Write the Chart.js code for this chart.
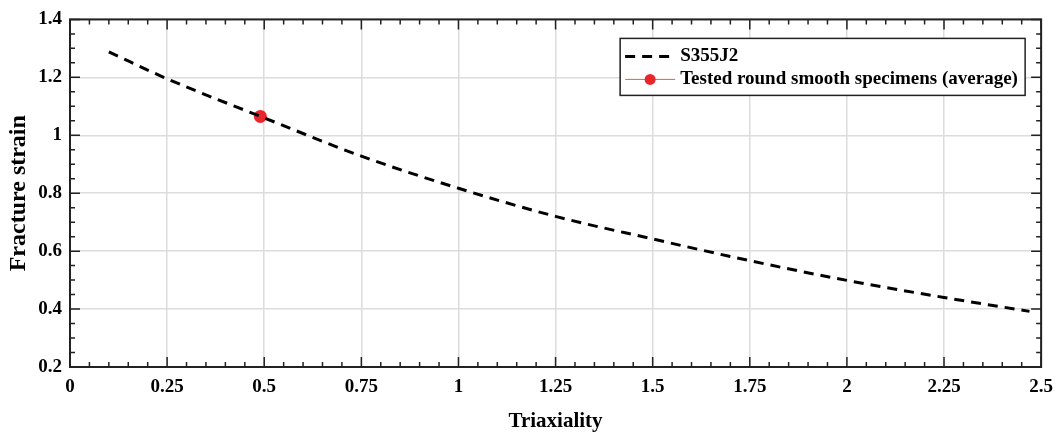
<!DOCTYPE html>
<html lang="en">
<head>
  <meta charset="UTF-8" />
  <title>Fracture strain vs triaxiality</title>
  <script src="https://cdn.jsdelivr.net/npm/chart.js"></script>
  <style>
    body { margin: 0; background: #fff; }
    #wrap { width: 1062px; height: 436px; }
  </style>
</head>
<body>
  <div id="wrap"><canvas id="chart" width="1062" height="436"></canvas></div>

  <script>
    // curve S355J2
    const curveX = [0.1, 0.25, 0.5, 0.75, 1.0, 1.25, 1.5, 1.75, 2.0, 2.25, 2.47];
    const curveY = [1.288, 1.195, 1.06, 0.928, 0.817, 0.72, 0.642, 0.567, 0.499, 0.44, 0.392];
    // tested specimens average
    const testX = [0.49];
    const testY = [1.065];
    const seriesNames = ['S355J2', 'Tested round smooth specimens (average)'];
    const xTicks = [0, 0.25, 0.5, 0.75, 1, 1.25, 1.5, 1.75, 2, 2.25, 2.5];
    const yTicks = [0.2, 0.4, 0.6, 0.8, 1, 1.2, 1.4];

    const FONT = '"Liberation Serif", "Times New Roman", serif';
    const RED = '#e8262b';

    // box, inward ticks on all sides, legend in the top right corner
    const frame = {
      id: 'frame',
      afterDatasetsDraw(chart) {
        const { ctx, chartArea: a, scales: { x, y } } = chart;
        ctx.save();
        ctx.strokeStyle = '#222';
        ctx.lineWidth = 1.5;
        for (let i = 0; i <= 50; i++) {
          const v = i * 0.05;
          const px = x.getPixelForValue(v);
          const len = i % 5 === 0 ? 10 : 5;
          ctx.beginPath();
          ctx.moveTo(px, a.bottom); ctx.lineTo(px, a.bottom - len);
          ctx.moveTo(px, a.top); ctx.lineTo(px, a.top + len);
          ctx.stroke();
        }
        for (let i = 0; i <= 24; i++) {
          const v = 0.2 + i * 0.05;
          const py = y.getPixelForValue(v);
          const len = i % 4 === 0 ? 10 : 5;
          ctx.beginPath();
          ctx.moveTo(a.left, py); ctx.lineTo(a.left + len, py);
          ctx.moveTo(a.right, py); ctx.lineTo(a.right - len, py);
          ctx.stroke();
        }
        ctx.lineWidth = 2;
        ctx.strokeRect(a.left, a.top, a.right - a.left, a.bottom - a.top);

        // legend
        const bx = a.right - 421, by = a.top + 19, bw = 405, bh = 57;
        ctx.fillStyle = '#fff';
        ctx.fillRect(bx, by, bw, bh);
        ctx.lineWidth = 1.5;
        ctx.strokeStyle = '#222';
        ctx.strokeRect(bx, by, bw, bh);
        const r1 = by + 18, r2 = by + 41;
        ctx.strokeStyle = '#000';
        ctx.lineWidth = 3;
        ctx.setLineDash([10, 7]);
        ctx.beginPath(); ctx.moveTo(bx + 5, r1); ctx.lineTo(bx + 55, r1); ctx.stroke();
        ctx.setLineDash([]);
        ctx.strokeStyle = '#f0602a';
        ctx.lineWidth = 1;
        ctx.beginPath(); ctx.moveTo(bx + 5, r2); ctx.lineTo(bx + 55, r2); ctx.stroke();
        ctx.fillStyle = RED;
        ctx.beginPath(); ctx.arc(bx + 30, r2, 5.5, 0, Math.PI * 2); ctx.fill();
        ctx.fillStyle = '#000';
        ctx.font = 'bold 19px ' + FONT;
        ctx.textBaseline = 'middle';
        ctx.fillText(seriesNames[0], bx + 60, r1);
        ctx.fillText(seriesNames[1], bx + 60, r2);
        ctx.restore();
      }
    };

    const ctx = document.getElementById('chart').getContext('2d');
    new Chart(ctx, {
      type: 'scatter',
      data: {
        datasets: [{
          label: seriesNames[0],
          data: curveX.map((v, i) => ({ x: v, y: curveY[i] })),
          showLine: true,
          borderColor: '#000',
          borderWidth: 3,
          borderDash: [10, 7],
          pointRadius: 0,
          tension: 0.4,
          cubicInterpolationMode: 'monotone'
        }, {
          label: seriesNames[1],
          data: testX.map((v, i) => ({ x: v, y: testY[i] })),
          backgroundColor: RED,
          borderColor: RED,
          pointRadius: 6.5,
          pointBorderWidth: 0
        }]
      },
      options: {
        responsive: false,
        animation: false,
        layout: { padding: { top: 15, right: 18, left: 0, bottom: 0 } },
        plugins: { legend: { display: false }, tooltip: { enabled: false } },
        scales: {
          x: {
            type: 'linear',
            min: 0, max: 2.5,
            afterBuildTicks: s => { s.ticks = xTicks.map(v => ({ value: v })); },
            afterFit: s => { s.height = 69; },
            grid: { color: '#dcdcdc', lineWidth: 1.5, drawTicks: false },
            border: { display: false },
            ticks: {
              padding: 9,
              color: '#000',
              font: { family: FONT, size: 19, weight: 'bold' },
              callback: v => String(v)
            },
            title: {
              display: true, text: 'Triaxiality', color: '#000',
              font: { family: FONT, size: 21, weight: 'bold' },
              padding: { top: 0, bottom: 2 }
            }
          },
          y: {
            type: 'linear',
            min: 0.2, max: 1.4,
            afterBuildTicks: s => { s.ticks = yTicks.map(v => ({ value: v })); },
            afterFit: s => { s.width = 70; },
            grid: { color: '#dcdcdc', lineWidth: 1.5, drawTicks: false },
            border: { display: false },
            ticks: {
              padding: 8,
              color: '#000',
              font: { family: FONT, size: 19, weight: 'bold' },
              callback: v => String(v)
            },
            title: {
              display: true, text: 'Fracture strain', color: '#000',
              font: { family: FONT, size: 24, weight: 'bold' },
              padding: { top: 4, bottom: 0 }
            }
          }
        }
      },
      plugins: [frame]
    });
  </script>
</body>
</html>
